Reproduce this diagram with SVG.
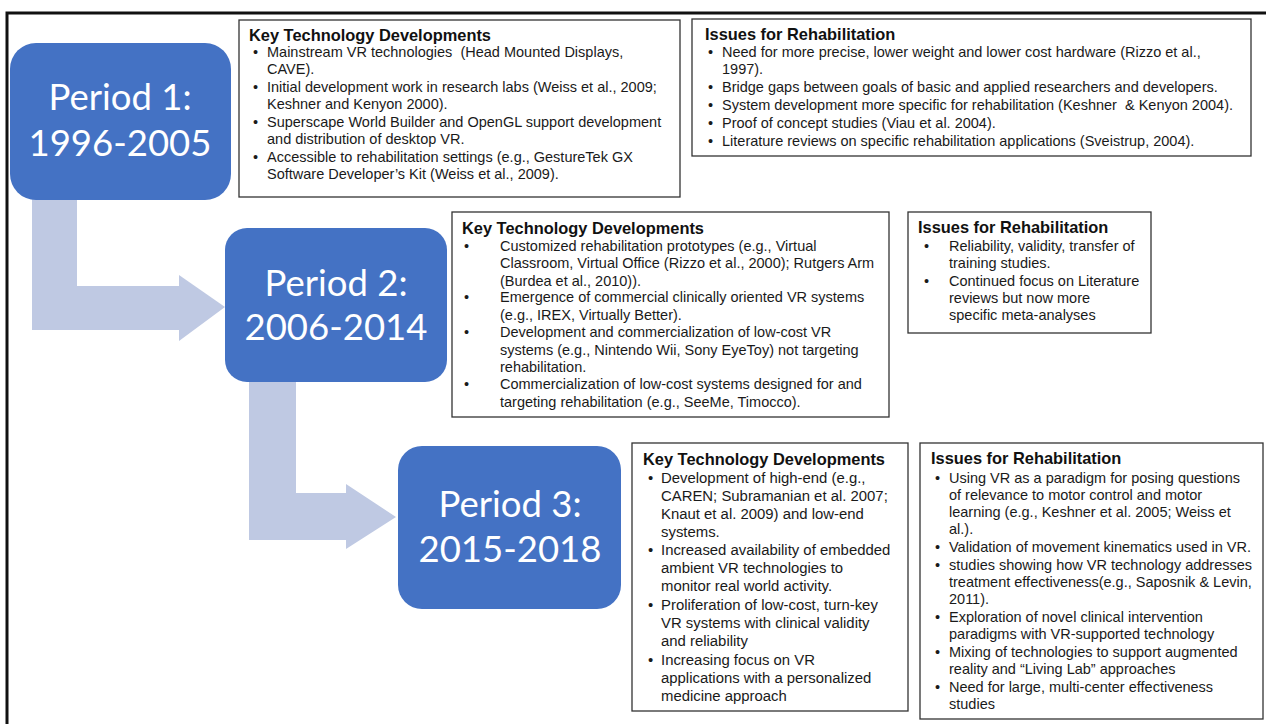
<svg xmlns="http://www.w3.org/2000/svg" width="1266" height="724" viewBox="0 0 1266 724">
<style>
.frame{fill:none;stroke:#111;stroke-width:3}
.period{fill:#4472C4}
.plabel{font-family:Lato,"Open Sans",sans-serif;font-size:36.5px;fill:#fff;text-anchor:middle}
.box{fill:#fff;stroke:#333;stroke-width:1.3}
.head{font-family:"Liberation Sans",Arial,sans-serif;font-size:16.4px;font-weight:bold;fill:#111}
.t{font-family:"Liberation Sans",Arial,sans-serif;font-size:14.5px;fill:#1a1a1a}
.t5{font-size:14.9px}
.arrow{fill:#BFC9E3}
</style>
<rect width="1266" height="724" fill="#fff"/>
<rect class="frame" x="7" y="13" width="1275" height="725"/>

<g id="connectors">
<path class="arrow" d="M32,198 H77 V286 H179 V275 L225,307 L179,341 V330 H32 Z"/>
<path class="arrow" d="M249,380 H296 V493 H346 V484 L396,517 L346,549 V540 H249 Z"/>
</g>

<g id="period1">
<rect class="period" x="10" y="43" width="221" height="157" rx="26"/>
<text class="plabel" x="120" y="110">Period 1:</text>
<text class="plabel" x="120" y="156">1996-2005</text>
</g>
<g id="period2">
<rect class="period" x="225" y="228" width="222" height="154" rx="22"/>
<text class="plabel" x="336" y="296">Period 2:</text>
<text class="plabel" x="336" y="340">2006-2014</text>
</g>
<g id="period3">
<rect class="period" x="398" y="446" width="223" height="163" rx="24"/>
<text class="plabel" x="510" y="517">Period 3:</text>
<text class="plabel" x="510" y="562">2015-2018</text>
</g>

<g id="ktd1">
<rect class="box" x="239" y="20" width="441" height="177"/>
<text class="head" x="249" y="41">Key Technology Developments</text>
<g class="t">
<text x="253" y="57">•</text><text x="267" y="57">Mainstream VR technologies &#160;(Head Mounted Displays,</text>
<text x="267" y="74">CAVE).</text>
<text x="253" y="92">•</text><text x="267" y="92">Initial development work in research labs (Weiss et al., 2009;</text>
<text x="267" y="109">Keshner and Kenyon 2000).</text>
<text x="253" y="127">•</text><text x="267" y="127">Superscape World Builder and OpenGL support development</text>
<text x="267" y="144">and distribution of desktop VR.</text>
<text x="253" y="162">•</text><text x="267" y="162">Accessible to rehabilitation settings (e.g., GestureTek GX</text>
<text x="267" y="179">Software Developer’s Kit (Weiss et al., 2009).</text>
</g>
</g>

<g id="ifr1">
<rect class="box" x="692" y="19" width="559" height="137"/>
<text class="head" x="705" y="40">Issues for Rehabilitation</text>
<g class="t">
<text x="708" y="57">•</text><text x="722" y="57">Need for more precise, lower weight and lower cost hardware (Rizzo et al.,</text>
<text x="722" y="74">1997).</text>
<text x="708" y="92">•</text><text x="722" y="92">Bridge gaps between goals of basic and applied researchers and developers.</text>
<text x="708" y="110">•</text><text x="722" y="110">System development more specific for rehabilitation (Keshner &#160;&amp; Kenyon 2004).</text>
<text x="708" y="128">•</text><text x="722" y="128">Proof of concept studies (Viau et al. 2004).</text>
<text x="708" y="146">•</text><text x="722" y="146">Literature reviews on specific rehabilitation applications (Sveistrup, 2004).</text>
</g>
</g>

<g id="ktd2">
<rect class="box" x="452" y="212" width="437" height="205"/>
<text class="head" x="462" y="234">Key Technology Developments</text>
<g class="t">
<text x="464" y="251">•</text><text x="500" y="251">Customized rehabilitation prototypes (e.g., Virtual</text>
<text x="500" y="268">Classroom, Virtual Office (Rizzo et al., 2000); Rutgers Arm</text>
<text x="500" y="286">(Burdea et al., 2010)).</text>
<text x="464" y="302">•</text><text x="500" y="302">Emergence of commercial clinically oriented VR systems</text>
<text x="500" y="320">(e.g., IREX, Virtually Better).</text>
<text x="464" y="337">•</text><text x="500" y="337">Development and commercialization of low-cost VR</text>
<text x="500" y="355">systems (e.g., Nintendo Wii, Sony EyeToy) not targeting</text>
<text x="500" y="372">rehabilitation.</text>
<text x="464" y="389">•</text><text x="500" y="389">Commercialization of low-cost systems designed for and</text>
<text x="500" y="407">targeting rehabilitation (e.g., SeeMe, Timocco).</text>
</g>
</g>

<g id="ifr2">
<rect class="box" x="908" y="212" width="243" height="121"/>
<text class="head" x="918" y="233">Issues for Rehabilitation</text>
<g class="t">
<text x="924" y="251">•</text><text x="949" y="251">Reliability, validity, transfer of</text>
<text x="949" y="268">training studies.</text>
<text x="924" y="286">•</text><text x="949" y="286">Continued focus on Literature</text>
<text x="949" y="303">reviews but now more</text>
<text x="949" y="320">specific meta-analyses</text>
</g>
</g>

<g id="ktd3">
<rect class="box" x="632" y="443" width="276" height="268"/>
<text class="head" x="643" y="465">Key Technology Developments</text>
<g class="t t5">
<text x="648" y="483">•</text><text x="661" y="483">Development of high-end (e.g.,</text>
<text x="661" y="501">CAREN; Subramanian et al. 2007;</text>
<text x="661" y="519">Knaut et al. 2009) and low-end</text>
<text x="661" y="537">systems.</text>
<text x="648" y="555">•</text><text x="661" y="555">Increased availability of embedded</text>
<text x="661" y="573">ambient VR technologies to</text>
<text x="661" y="591">monitor real world activity.</text>
<text x="648" y="610">•</text><text x="661" y="610">Proliferation of low-cost, turn-key</text>
<text x="661" y="628">VR systems with clinical validity</text>
<text x="661" y="646">and reliability</text>
<text x="648" y="665">•</text><text x="661" y="665">Increasing focus on VR</text>
<text x="661" y="683">applications with a personalized</text>
<text x="661" y="701">medicine approach</text>
</g>
</g>

<g id="ifr3">
<rect class="box" x="920" y="443" width="343" height="276"/>
<text class="head" x="931" y="464">Issues for Rehabilitation</text>
<g class="t">
<text x="935" y="483">•</text><text x="949" y="483">Using VR as a paradigm for posing questions</text>
<text x="949" y="500">of relevance to motor control and motor</text>
<text x="949" y="517">learning (e.g., Keshner et al. 2005; Weiss et</text>
<text x="949" y="534">al.).</text>
<text x="935" y="552">•</text><text x="949" y="552">Validation of movement kinematics used in VR.</text>
<text x="935" y="570">•</text><text x="949" y="570">studies showing how VR technology addresses</text>
<text x="949" y="587">treatment effectiveness(e.g., Saposnik &amp; Levin,</text>
<text x="949" y="604">2011).</text>
<text x="935" y="622">•</text><text x="949" y="622">Exploration of novel clinical intervention</text>
<text x="949" y="639">paradigms with VR-supported technology</text>
<text x="935" y="657">•</text><text x="949" y="657">Mixing of technologies to support augmented</text>
<text x="949" y="674">reality and “Living Lab” approaches</text>
<text x="935" y="692">•</text><text x="949" y="692">Need for large, multi-center effectiveness</text>
<text x="949" y="709">studies</text>
</g>
</g>
</svg>
